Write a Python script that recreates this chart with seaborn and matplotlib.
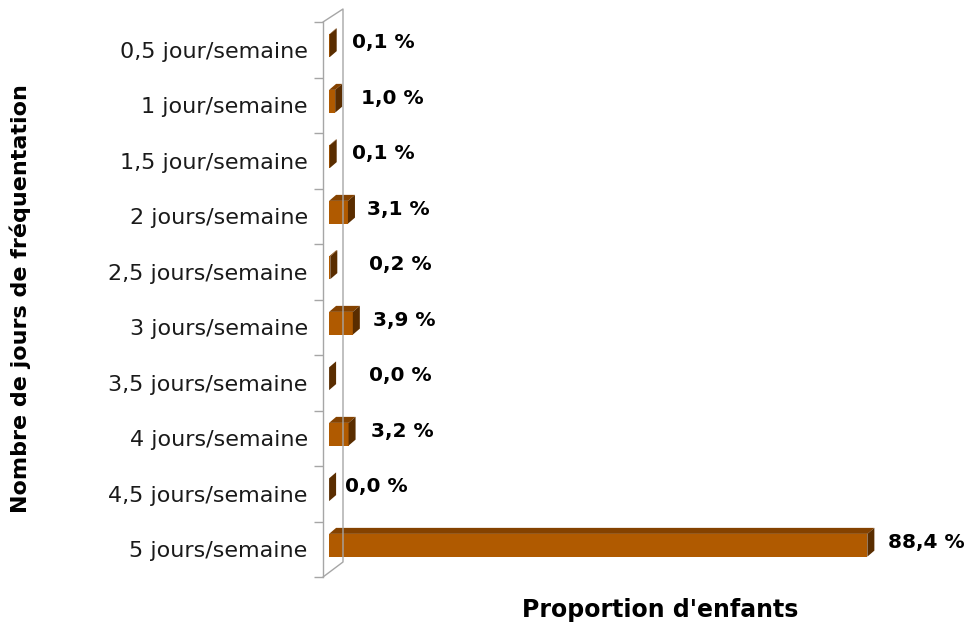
import numpy as np
import pandas as pd
import seaborn as sns
import matplotlib.pyplot as plt
from matplotlib.patches import Polygon
from matplotlib.lines import Line2D
from matplotlib.transforms import IdentityTransform, ScaledTranslation

# Data
categories = ['0,5 jour/semaine', '1 jour/semaine', '1,5 jour/semaine', '2 jours/semaine',
              '2,5 jours/semaine', '3 jours/semaine', '3,5 jours/semaine', '4 jours/semaine',
              '4,5 jours/semaine', '5 jours/semaine']
proportions = [0.1, 1.0, 0.1, 3.1, 0.2, 3.9, 0.0, 3.2, 0.0, 88.4]

# Excel puts the value labels at slightly uneven gaps from the bars (pixels)
label_shift = [15, 19, 15, 12, 32, 13, 33, 15, 9, 14]

front = '#b05a00'
top = '#844200'
side = '#5a2d00'
wall = '#a6a6a6'

W, H = 968, 625
DX, DY, LIFT = 7, 6, 4       # bar depth and lift, pixels

sns.set_theme(style='white')
plt.rcParams['font.family'] = ['DejaVu Sans']
plt.rcParams['text.color'] = 'black'

fig = plt.figure(figsize=(W / 100, H / 100), dpi=100)
ax = fig.add_axes([323 / W, 48 / H, 615 / W, 555 / H])

df = pd.DataFrame({'jours': categories, 'part': proportions})
sns.barplot(data=df, x='part', y='jours', orient='h', color=front, saturation=1,
            width=0.41, linewidth=0, ax=ax)
ax.set_xlim(-1, 100)
ax.set_ylim(len(categories) - 0.5, -0.5)

# 3D look: top and side faces of each bar
ident = IdentityTransform()
lift = ScaledTranslation(0, LIFT / 100, fig.dpi_scale_trans)
bars = list(ax.patches)
for bar in bars:
    bar.set_transform(ax.transData + lift)
    x0, x1 = bar.get_x(), bar.get_x() + bar.get_width()
    y0, y1 = bar.get_y(), bar.get_y() + bar.get_height()
    (px0, pya), (px1, pyb) = ax.transData.transform([(x0, y0), (x1, y1)])
    pbot, ptop = min(pya, pyb) + LIFT, max(pya, pyb) + LIFT
    ax.add_patch(Polygon([(px0, ptop), (px1, ptop), (px1 + DX, ptop + DY), (px0 + DX, ptop + DY)],
                         transform=ident, facecolor=top, lw=0, clip_on=False))
    ax.add_patch(Polygon([(px1, pbot), (px1 + DX, pbot + DY), (px1 + DX, ptop + DY), (px1, ptop)],
                         transform=ident, facecolor=side, lw=0, clip_on=False))

# value labels
for i, (v, sh) in enumerate(zip(proportions, label_shift)):
    ax.annotate(f'{v:.1f} %'.replace('.', ','), xy=(v, i), xytext=((DX + sh) * 0.72, 7 * 0.72),
                textcoords='offset points', ha='left', va='center',
                fontsize=14.5, fontweight='bold', color='black')

# the back wall
L, B, T = ax.bbox.x0, ax.bbox.y0, ax.bbox.y1
fig.add_artist(Line2D([L, L + 20, L + 20, L], [T, T + 13, B + 15, B], transform=ident,
                      color=wall, lw=1))

for s in ['top', 'right', 'bottom']:
    ax.spines[s].set_visible(False)
ax.spines['left'].set_color(wall)
ax.spines['left'].set_linewidth(1)

ax.set_xticks([])
ax.set_yticks(np.arange(-0.5, len(categories), 1), minor=True)
ax.tick_params(axis='y', which='major', left=False, length=0, pad=11,
               labelsize=16, labelcolor='#1a1a1a')
ax.tick_params(axis='y', which='minor', left=True, length=6.5, width=1, color=wall,
               direction='out')
ax.set_xlabel('')
ax.set_ylabel('')

fig.text(20 / W, 1 - 299 / H, 'Nombre de jours de fréquentation', rotation=90,
         ha='center', va='center', fontsize=16, fontweight='bold', color='black')
fig.text(660 / W, 1 - 610 / H, "Proportion d'enfants", ha='center', va='center',
         fontsize=17, fontweight='bold', color='black')

fig.savefig('out.png', dpi=100)
